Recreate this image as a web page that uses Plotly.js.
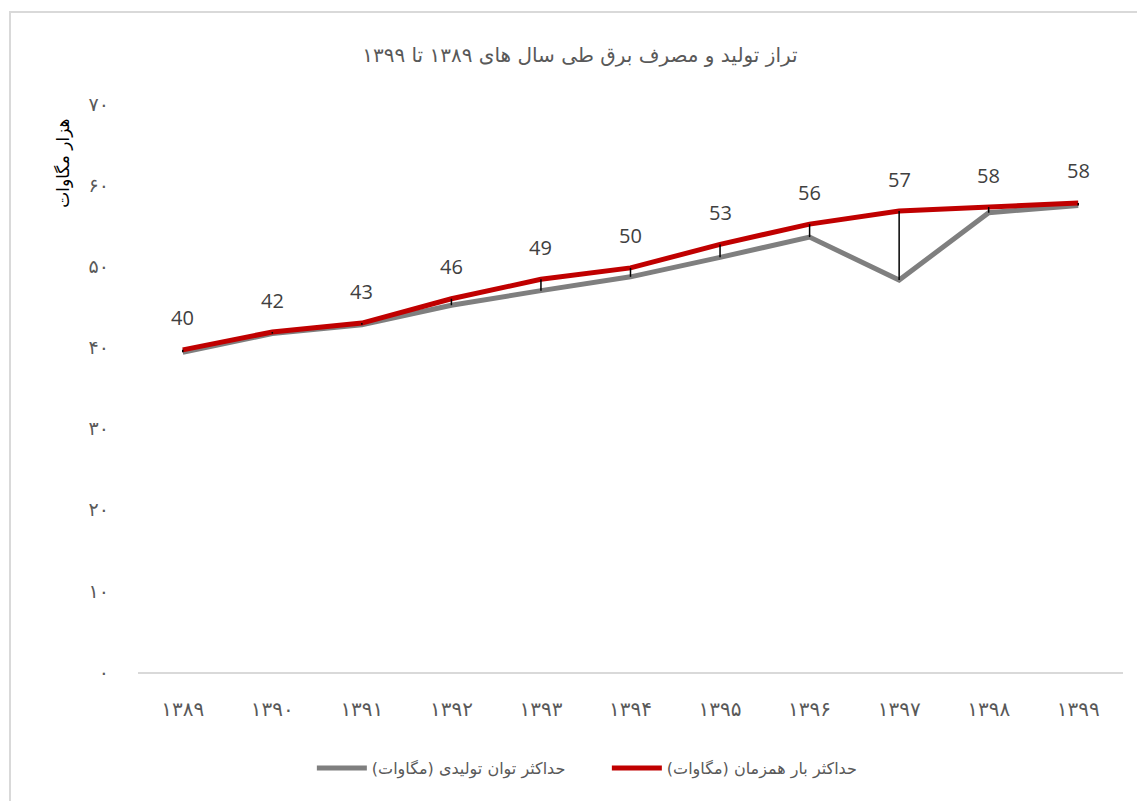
<!DOCTYPE html>
<html>
<head>
<meta charset="utf-8">
<script src="https://cdn.plot.ly/plotly-3.0.1.min.js"></script>
<style>
  html, body { margin: 0; padding: 0; background: #fff; overflow: hidden; }
  #frame { position: absolute; left: 9px; top: 11px; width: 1200px; height: 900px; border: 2px solid #d9d9d9; box-sizing: border-box; pointer-events: none; z-index: 5; }
  #chart { width: 1137px; height: 801px; }
</style>
</head>
<body>
<div id="frame"></div>
<div id="chart"></div>
<script>
// ---- data ----
const years = [1389, 1390, 1391, 1392, 1393, 1394, 1395, 1396, 1397, 1398, 1399];
const peakLoad = [39.7, 41.9, 43.0, 46.0, 48.4, 49.8, 52.7, 55.2, 56.8, 57.3, 57.8];      // حداکثر بار همزمان
const genCapacity = [39.4, 41.7, 42.8, 45.2, 47.0, 48.7, 51.1, 53.6, 48.3, 56.6, 57.5];   // حداکثر توان تولیدی
const loadLabels = ["40", "42", "43", "46", "49", "50", "53", "56", "57", "58", "58"];
const yTicks = [0, 10, 20, 30, 40, 50, 60, 70];

const faDigits = "۰۱۲۳۴۵۶۷۸۹";
function toFa(n) { return String(n).replace(/[0-9]/g, d => faDigits[+d]); }

const cats = years.map(toFa);

const gray = {
  x: cats, y: genCapacity, type: "scatter", mode: "lines",
  name: "حداکثر توان تولیدی (مگاوات)",
  line: { color: "#7f7f7f", width: 5 },
  hoverinfo: "x+y"
};
const red = {
  x: cats, y: peakLoad, type: "scatter", mode: "lines",
  name: "حداکثر بار همزمان (مگاوات)",
  line: { color: "#c00000", width: 5 },
  hoverinfo: "x+y"
};
// high-low lines between the two series
const dx = [], dy = [];
cats.forEach((c, i) => { dx.push(c, c, null); dy.push(genCapacity[i], peakLoad[i], null); });
const drop = {
  x: dx, y: dy, type: "scatter", mode: "lines",
  line: { color: "#000000", width: 1.5 },
  showlegend: false, hoverinfo: "skip", connectgaps: false
};

const annotations = cats.map((c, i) => ({
  x: c, y: peakLoad[i], text: loadLabels[i], showarrow: false,
  yshift: 32, font: { family: "Open Sans, DejaVu Sans, sans-serif", size: 20, color: "#404040" }
}));
annotations.push({
  xref: "paper", yref: "paper", x: -0.077, y: 0.895,
  xanchor: "center", yanchor: "middle",
  text: "هزار مگاوات", textangle: -90, showarrow: false,
  font: { family: "DejaVu Sans, sans-serif", size: 17, color: "#000000" }
});

const layout = {
  width: 1137, height: 801,
  margin: { l: 138, r: 14, t: 104, b: 129 },
  paper_bgcolor: "#ffffff", plot_bgcolor: "#ffffff",
  font: { family: "DejaVu Sans, sans-serif", color: "#595959" },
  title: {
    text: "تراز تولید و مصرف برق طی سال های " + toFa(1389) + " تا " + toFa(1399),
    xref: "container", yref: "container", x: 0.51, y: 1 - 55 / 801,
    xanchor: "center", yanchor: "middle",
    font: { family: "DejaVu Sans, sans-serif", size: 20, color: "#595959" }
  },
  xaxis: {
    type: "category", range: [-0.5, 10.5],
    showgrid: false, zeroline: false,
    showline: true, linecolor: "#d9d9d9", linewidth: 1.5,
    ticks: "", ticklabelstandoff: 18,
    tickfont: { family: "DejaVu Sans, sans-serif", size: 20, color: "#595959" },
    fixedrange: true
  },
  yaxis: {
    range: [0, 70], showgrid: false, zeroline: false, showline: false,
    tickmode: "array", tickvals: yTicks, ticktext: yTicks.map(toFa),
    ticks: "", ticklabelstandoff: 28,
    tickfont: { family: "DejaVu Sans, sans-serif", size: 19, color: "#595959" },
    fixedrange: true
  },
  showlegend: true,
  legend: {
    orientation: "h", xref: "paper", yref: "paper",
    x: 0.476, y: -0.169, xanchor: "center", yanchor: "middle",
    font: { family: "DejaVu Sans, sans-serif", size: 16, color: "#595959" },
    traceorder: "normal", itemwidth: 50,
    entrywidth: 230, entrywidthmode: "pixels"
  },
  annotations: annotations
};

Plotly.newPlot("chart", [gray, red, drop], layout, { displayModeBar: false, responsive: false });
</script>
</body>
</html>
